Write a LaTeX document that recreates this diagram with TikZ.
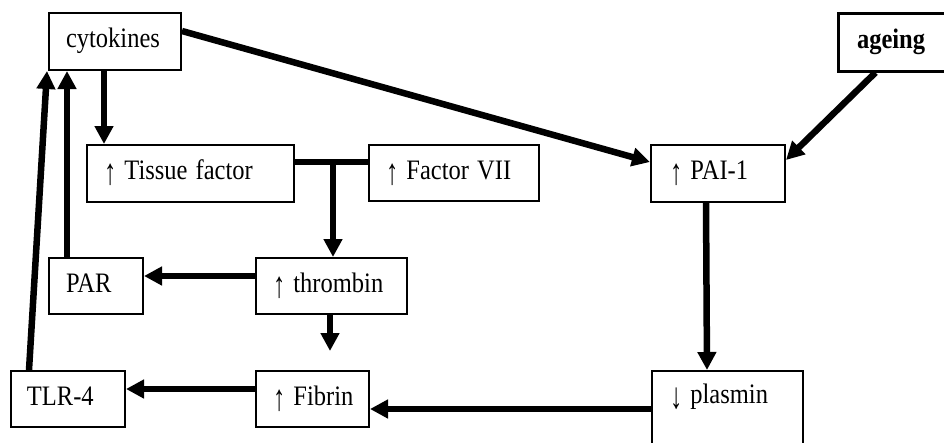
\documentclass[tikz,border=0pt]{standalone}
\usepackage{graphicx}
\usepackage{fontspec}
\setmainfont{Liberation Serif}
\usetikzlibrary{arrows.meta,calc}

% box labels are set slightly taller than wide
\newcommand{\tallbox}[1]{\scalebox{1}[1.15]{#1}}
% long thin arrows that reach below the baseline
\newcommand{\uparr}{\raisebox{-4.5pt}{\scalebox{1}[1.3]{↑}}}
\newcommand{\downarr}{\raisebox{-4.5pt}{\scalebox{1}[1.3]{↓}}}

\tikzset{
  box/.style={draw, line width=2pt, rectangle, inner xsep=17pt, inner ysep=0pt,
    text height=17pt, text depth=5pt, align=left,
    font=\fontsize{24.5}{29}\selectfont},
  link/.style={line width=6.5pt},
  arr/.style={link, -{Triangle[width=18pt,length=18pt]}}
}

\begin{document}
\begin{tikzpicture}[x=1pt,y=-1pt]
  \useasboundingbox (0,0) rectangle (944,442);
  \clip (0,0) rectangle (944,442);

  % boxes
  \node[box, minimum width=132pt, minimum height=57pt, text width=98pt] (cyt) at (115,41.5) {\tallbox{cytokines}};
  \node[box, minimum width=207pt, minimum height=57pt, text width=173pt] (tf) at (190.5,173.5) {\tallbox{\uparr\ Tissue factor}};
  \node[box, minimum width=170pt, minimum height=56pt, text width=136pt] (f7) at (454,173) {\tallbox{\uparr\ Factor VII}};
  \node[box, minimum width=132pt, minimum height=57pt, text width=96pt, inner xsep=19pt] (pai) at (718,173.5) {\tallbox{\uparr\ PAI-1}};
  \node[box, line width=3pt, minimum width=122pt, minimum height=58pt, text width=84pt, inner xsep=19pt,
        font=\fontsize{24.5}{29}\selectfont\bfseries] (age) at (899,42) {\tallbox{ageing}};
  \node[box, minimum width=94pt, minimum height=56pt, text width=60pt] (par) at (96,286) {\tallbox{PAR}};
  \node[box, minimum width=151pt, minimum height=56pt, text width=117pt] (thr) at (331.5,286) {\tallbox{\uparr\ thrombin}};
  \node[box, minimum width=114pt, minimum height=56pt, text width=82pt, inner xsep=16pt] (tlr) at (68,399) {\tallbox{TLR-4}};
  \node[box, minimum width=113pt, minimum height=56pt, text width=79pt] (fib) at (312.5,399) {\tallbox{\uparr\ Fibrin}};
  \node[box, minimum width=151pt, minimum height=110pt, text width=115pt, inner xsep=18pt,
        text depth=63pt] (pla) at (727.5,426) {\tallbox{\downarr\ plasmin}};

  % connectors
  \draw[arr] ($(cyt.south west)+(56,0)$) -- ($(tf.north west)+(18,0)$);
  \draw[arr] ($(cyt.north east)+(0,19)$) -- ($(pai.north west)+(0,18)$);
  \draw[arr] ($(age.south west)+(39,0)$) -- ($(pai.north east)+(0,16)$);

  \coordinate (j) at ($(tf.north east)+(38,18)$);
  \draw[link] ($(tf.north east)+(0,18)$) -- ($(f7.north west)+(0,18)$);
  \draw[arr] (j) -- (j |- thr.north);

  \draw[arr] ($(thr.north west)+(0,19)$) -- ($(par.north east)+(0,19)$);
  \draw[arr] ($(par.north west)+(19,0)$) -- ($(cyt.south west)+(19,0)$);
  \draw[arr] ($(tlr.north west)+(19,0)$) -- ($(cyt.south west)+(-1,0)$);

  \coordinate (fibtop) at ($(fib.north west)+(75,-19)$);
  \draw[arr] ($(thr.south west)+(75,0)$) -- (fibtop);

  \draw[arr] ($(fib.north west)+(0,19)$) -- ($(tlr.north east)+(0,19)$);
  \draw[arr] ($(pla.north west)+(0,39)$) -- ($(fib.north east)+(0,39)$);
  \draw[arr] ($(pai.south west)+(56,0)$) -- ($(pla.north west)+(56,0)$);
\end{tikzpicture}
\end{document}
